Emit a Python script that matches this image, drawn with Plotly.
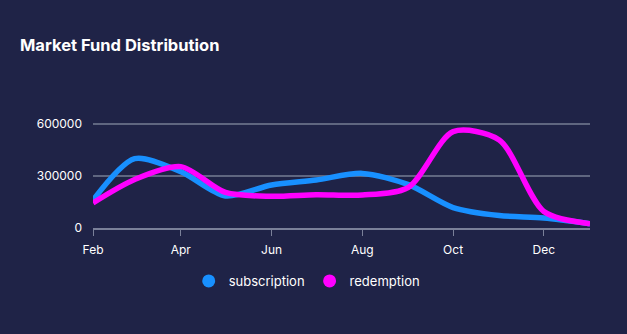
import plotly.graph_objects as go

months = ["2023-02-01", "2023-03-01", "2023-04-01", "2023-05-01", "2023-06-01", "2023-07-01",
          "2023-08-01", "2023-09-01", "2023-10-01", "2023-11-01", "2023-12-01", "2024-01-01"]
subscription = [160000, 400000, 325000, 185000, 248000, 277000, 315000, 250000, 118000, 72000, 58000, 25000]
redemption = [145000, 280000, 354000, 205000, 183000, 192000, 190000, 235000, 556000, 508000, 95000, 25000]
tick_vals = ["2023-02-01", "2023-04-01", "2023-06-01", "2023-08-01", "2023-10-01", "2023-12-01"]
tick_text = ["Feb", "Apr", "Jun", "Aug", "Oct", "Dec"]

BG = "#1f2347"
BLUE = "#1890ff"
MAGENTA = "#ff00ff"
FONT = "Inter, Lato, sans-serif"

fig = go.Figure()
for name, vals, col in [("subscription", subscription, BLUE), ("redemption", redemption, MAGENTA)]:
    fig.add_trace(go.Scatter(x=months, y=vals, mode="lines", name=name,
                             line=dict(color=col, width=5.5, shape="spline", smoothing=0.8),
                             showlegend=False, hoverinfo="x+y"))
for name, col in [("subscription", BLUE), ("redemption", MAGENTA)]:
    fig.add_trace(go.Scatter(x=[None], y=[None], mode="markers", name=name,
                             marker=dict(color=col, size=13, symbol="circle")))

fig.update_layout(
    width=627, height=334,
    paper_bgcolor=BG, plot_bgcolor=BG,
    margin=dict(l=93, r=37, t=98, b=106),
    title=dict(text="<b>Market Fund Distribution</b>", x=20/627, xanchor="left",
               y=1-45/334, yanchor="middle",
               font=dict(family=FONT, size=16.5, color="#ffffff")),
    font=dict(family=FONT, color="#ffffff", size=12),
    showlegend=True,
    legend=dict(orientation="h", x=0.43, xanchor="center", y=-(281-228)/130, yanchor="middle",
                font=dict(size=13, color="#ffffff"), itemsizing="trace", itemwidth=30,
                bgcolor="rgba(0,0,0,0)"),
    xaxis=dict(range=["2023-02-01", "2024-01-01"], tickvals=tick_vals, ticktext=tick_text,
               showgrid=False, zeroline=False, showline=True, linecolor="#7a8099", linewidth=2,
               ticks="outside", ticklen=6, tickcolor="#7a8099", tickwidth=1, ticklabelstandoff=4,
               tickfont=dict(size=12, color="#ffffff"), fixedrange=True),
    yaxis=dict(range=[0, 750000], tickvals=[0, 300000, 600000], ticktext=["0", "300000", "600000"],
               showgrid=True, gridcolor="#5f6680", gridwidth=2, zeroline=False, showline=False,
               ticks="", ticklabelstandoff=10,
               tickfont=dict(size=12, color="#ffffff"), fixedrange=True),
)

fig.write_html("out.html")
